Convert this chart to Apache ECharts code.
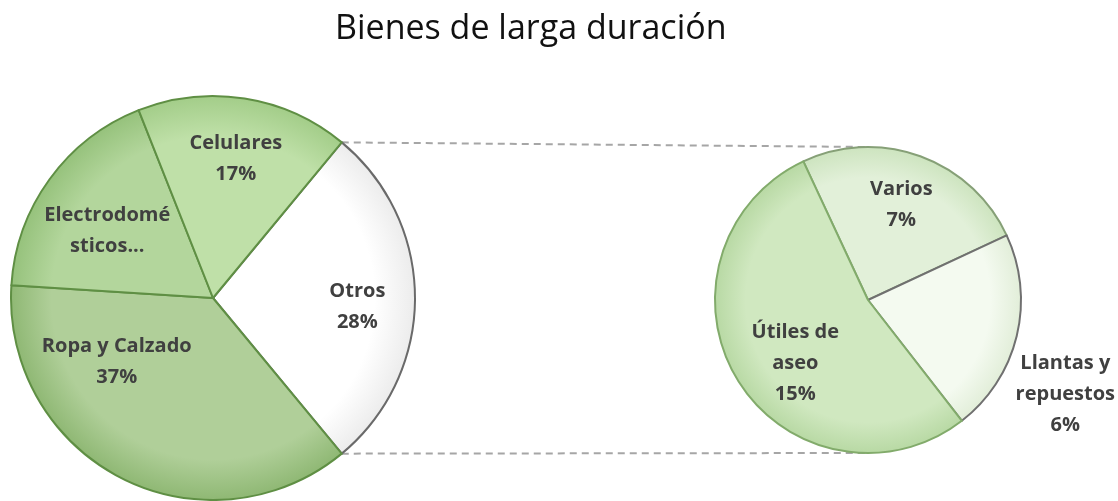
<!DOCTYPE html>
<html><head><meta charset="utf-8">
<script src="https://cdn.jsdelivr.net/npm/echarts@6/dist/echarts.min.js"></script>
<style>html,body{margin:0;padding:0;background:#fff}#c{width:1118px;height:501px}</style>
</head><body><div id="c"></div>
<script>
// ---- data ----
const titleText = 'Bienes de larga duración';
const mainNames = ['Otros', 'Ropa y Calzado', 'Electrodomésticos', 'Celulares'];
const mainValues = [28, 37, 18, 17];
const mainLabels = ['Otros\n28%', 'Ropa y Calzado\n37%', 'Electrodomé\nsticos...', 'Celulares\n17%'];
const subNames = ['Varios', 'Llantas y repuestos', 'Útiles de aseo'];
const subValues = [7, 6, 15];
const subLabels = ['Varios\n7%', 'Llantas y\nrepuestos\n6%', 'Útiles de\naseo\n15%'];

// ---- layout / style ----
const LC = [213, 298], LR = 202;
const RC = [868, 300], RR = 153;
const mainColors = [['#ffffff', '#ececec'], ['#b0cf99', '#8fb874'], ['#b3d69c', '#96c27c'], ['#bfe0a8', '#a3cd89']];
const mainBorders = ['#6a6a6a', '#5f8f44', '#5f8f44', '#5f8f44'];
const subColors = [['#e2f0d9', '#cde4bf'], ['#f4faf0', '#e2eed9'], ['#d0e8c0', '#b8d9a4']];
const subBorders = ['#86a077', '#707070', '#82ab6b'];
const mainStart = mainValues[0] / mainValues.reduce((a, b) => a + b, 0) * 180;
const subStart = 115;

function radial(c, r, cols) {
  return { type: 'radial', x: c[0], y: c[1], r: r, global: true,
    colorStops: [{ offset: 0, color: cols[0] }, { offset: 0.8, color: cols[0] }, { offset: 1, color: cols[1] }] };
}
const mainData = mainNames.map((n, i) => ({ name: n, value: mainValues[i],
  itemStyle: { color: radial(LC, LR, mainColors[i]), borderColor: mainBorders[i], borderWidth: 2 } }));
const subData = subNames.map((n, i) => ({ name: n, value: subValues[i],
  itemStyle: { color: radial(RC, RR, subColors[i]), borderColor: subBorders[i], borderWidth: 2 } }));

const labelStyle = { fontFamily: 'Open Sans', fontWeight: 'bold', fontSize: 20, color: '#404040', lineHeight: 31 };
const mainShift = [[5, 9], [-33, -60], [7, 15], [1, -2]];
const subShift = [[-3, 5], [94, 69], [18, 8]];

function labelSeries(c, r, start, names, values, labels, shift) {
  return { type: 'pie', center: c, radius: [r * 0.35, r], startAngle: start, clockwise: true,
    silent: true, z: 5, animation: false,
    itemStyle: { color: 'rgba(0,0,0,0)', borderWidth: 0 },
    label: Object.assign({ show: true, position: 'inside', formatter: p => labels[p.dataIndex] }, labelStyle),
    labelLine: { show: false },
    labelLayout: p => ({ dx: shift[p.dataIndex][0], dy: shift[p.dataIndex][1] }),
    data: names.map((n, i) => ({ name: n, value: values[i] })) };
}

// connector line endpoints derived from pie geometry
const a1 = mainStart * Math.PI / 180;
const p1 = [LC[0] + LR * Math.cos(a1), LC[1] - LR * Math.sin(a1)];
const p2 = [LC[0] + LR * Math.cos(a1), LC[1] + LR * Math.sin(a1)];
const q1 = [RC[0], RC[1] - RR], q2 = [RC[0], RC[1] + RR];

const chart = echarts.init(document.getElementById('c'));
chart.setOption({
  animation: false,
  title: { text: titleText, left: 330, top: 7,
    textStyle: { fontFamily: 'Open Sans', fontWeight: 'normal', fontSize: 34, color: '#111' } },
  graphic: [
    { type: 'line', z: 0, shape: { x1: p1[0], y1: p1[1], x2: q1[0], y2: q1[1] },
      style: { stroke: '#a6a6a6', lineWidth: 2, lineDash: [7, 5] } },
    { type: 'line', z: 0, shape: { x1: p2[0], y1: p2[1], x2: q2[0], y2: q2[1] },
      style: { stroke: '#a6a6a6', lineWidth: 2, lineDash: [7, 5] } }
  ],
  series: [
    { type: 'pie', center: LC, radius: [0, LR], startAngle: mainStart, clockwise: true, z: 2,
      label: { show: false }, labelLine: { show: false }, data: mainData,
      emphasis: { disabled: true } },
    { type: 'pie', center: RC, radius: [0, RR], startAngle: subStart, clockwise: true, z: 2,
      label: { show: false }, labelLine: { show: false }, data: subData,
      emphasis: { disabled: true } },
    labelSeries(LC, LR, mainStart, mainNames, mainValues, mainLabels, mainShift),
    labelSeries(RC, RR, subStart, subNames, subValues, subLabels, subShift)
  ]
});
</script></body></html>
